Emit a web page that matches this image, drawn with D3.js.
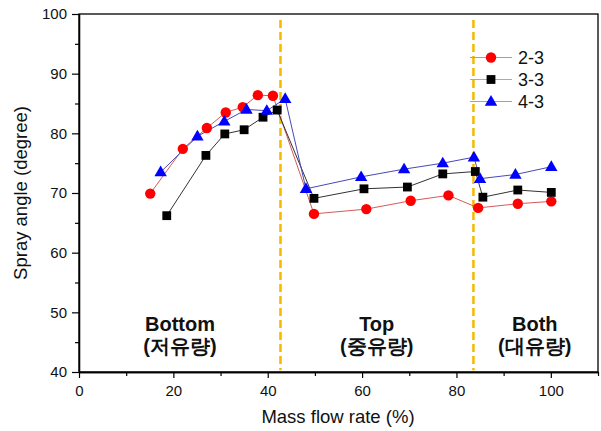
<!DOCTYPE html>
<html>
<head>
<meta charset="utf-8">
<script src="https://cdn.jsdelivr.net/npm/d3@7"></script>
<style>
  body { margin: 0; background: #fff; }
  text { font-family: Arial, "Liberation Sans", sans-serif; }
</style>
</head>
<body>
<div id="app"></div>
<script>
// data
const x23 = [15.1, 22.0, 27.1, 31.1, 34.7, 37.9, 41.1, 49.8, 60.9, 70.3, 78.3, 84.6, 93.0, 100.1];
const y23 = [69.9, 77.4, 80.9, 83.5, 84.4, 86.4, 86.3, 66.5, 67.3, 68.7, 69.6, 67.5, 68.2, 68.6];
const x33 = [18.6, 26.9, 30.9, 35.0, 39.0, 42.0, 49.8, 60.4, 69.6, 77.1, 84.0, 85.6, 93.0, 100.1];
const y33 = [66.2, 76.3, 79.9, 80.6, 82.7, 83.9, 69.1, 70.7, 71.0, 73.2, 73.6, 69.3, 70.5, 70.1];
const x43 = [17.3, 25.1, 30.8, 35.5, 39.8, 43.7, 48.1, 59.8, 68.9, 77.1, 83.7, 85.0, 92.5, 100.1];
const y43 = [73.5, 79.5, 82.0, 84.0, 83.8, 85.8, 70.7, 72.7, 74.0, 75.0, 76.0, 72.4, 73.1, 74.4];
const dividers = [42.7, 83.6];
const regions = [
  { x: 21.4, top: "Bottom", sub: "(저유량)" },
  { x: 63.1, top: "Top", sub: "(중유량)" },
  { x: 96.6, top: "Both", sub: "(대유량)" }
];
const xTicks = [0, 20, 40, 60, 80, 100];
const yTicks = [40, 50, 60, 70, 80, 90, 100];

const series = [
  { name: "2-3", xs: x23, ys: y23, line: "#d65a5a", legendLine: "#f08080", fill: "#ff0000", shape: "circle" },
  { name: "3-3", xs: x33, ys: y33, line: "#333", legendLine: "#aaa", fill: "#000", shape: "square" },
  { name: "4-3", xs: x43, ys: y43, line: "#4848b8", legendLine: "#9a9ae0", fill: "#0000ff", shape: "triangle" }
];

const width = 601;
const height = 431;
const marginLeft = 79;
const marginRight = 3;
const marginTop = 14;
const marginBottom = 59;

const x = d3.scaleLinear().domain([0, 110]).range([marginLeft, width - marginRight]);
const y = d3.scaleLinear().domain([40, 100]).range([height - marginBottom, marginTop]);

const svg = d3.select("#app").append("svg").attr("width", width).attr("height", height);

// frame
svg.append("rect")
  .attr("x", x(0)).attr("y", y(100))
  .attr("width", x(110) - x(0)).attr("height", y(40) - y(100))
  .attr("fill", "none").attr("stroke", "#000").attr("stroke-width", 1.3);

// x axis
const gx = svg.append("g").attr("transform", `translate(0,${y(40)})`);
gx.call(d3.axisBottom(x).tickValues(xTicks).tickSize(6).tickPadding(7).tickSizeOuter(0));
gx.append("g").call(d3.axisBottom(x).tickValues([10, 30, 50, 70, 90, 110]).tickSize(4).tickFormat("").tickSizeOuter(0));

// y axis
const gy = svg.append("g").attr("transform", `translate(${x(0)},0)`);
gy.call(d3.axisLeft(y).tickValues(yTicks).tickSize(7).tickPadding(5).tickSizeOuter(0));
gy.append("g").call(d3.axisLeft(y).tickValues([45, 55, 65, 75, 85, 95]).tickSize(4).tickFormat("").tickSizeOuter(0));

svg.selectAll(".domain").attr("stroke", "#000").attr("stroke-width", 1.3);
svg.selectAll(".tick line").attr("stroke", "#000").attr("stroke-width", 1.2);
svg.selectAll(".tick text").attr("font-size", 15).attr("fill", "#111");

// dividers
svg.selectAll(".divider")
  .data(dividers)
  .join("line")
  .attr("x1", (d) => x(d)).attr("x2", (d) => x(d))
  .attr("y1", y(99)).attr("y2", y(40.3))
  .attr("stroke", "#f5b800").attr("stroke-width", 2.5)
  .attr("stroke-dasharray", "8,4");

// region labels
regions.forEach((r) => {
  svg.append("text").text(r.top)
    .attr("x", x(r.x)).attr("y", 331)
    .attr("text-anchor", "middle")
    .attr("font-family", "'Noto Sans CJK KR', 'Noto Sans', sans-serif")
    .attr("font-weight", "bold").attr("font-size", 20).attr("fill", "#111");
  svg.append("text").text(r.sub)
    .attr("x", x(r.x)).attr("y", 353)
    .attr("text-anchor", "middle")
    .attr("font-family", "'Noto Sans CJK KR', sans-serif")
    .attr("font-weight", "bold").attr("font-size", 20).attr("fill", "#111");
});

const drawMarker = (g, shape, fill, cx, cy) => {
  if (shape === "circle") {
    g.append("circle").attr("cx", cx).attr("cy", cy).attr("r", 5.2).attr("fill", fill);
  } else if (shape === "square") {
    g.append("rect").attr("x", cx - 4.4).attr("y", cy - 4.4).attr("width", 8.8).attr("height", 8.8).attr("fill", fill);
  } else {
    g.append("path")
      .attr("d", `M${cx},${cy - 6.5}L${cx + 6.2},${cy + 4.2}L${cx - 6.2},${cy + 4.2}Z`)
      .attr("fill", fill);
  }
};

// series
const line = d3.line().x((d) => x(d[0])).y((d) => y(d[1]));
series.forEach((s) => {
  const pts = s.xs.map((v, i) => [v, s.ys[i]]);
  svg.append("path").datum(pts)
    .attr("d", line).attr("fill", "none")
    .attr("stroke", s.line).attr("stroke-width", 1);
});
series.forEach((s) => {
  const g = svg.append("g");
  s.xs.forEach((v, i) => drawMarker(g, s.shape, s.fill, x(v), y(s.ys[i])));
});

// legend
const legend = svg.append("g").attr("transform", "translate(470,57.5)");
series.forEach((s, i) => {
  const row = legend.append("g").attr("transform", `translate(0,${i * 22})`);
  row.append("line").attr("x1", 0).attr("x2", 42).attr("y1", 0).attr("y2", 0)
    .attr("stroke", s.legendLine).attr("stroke-width", 1.2);
  drawMarker(row, s.shape, s.fill, 21, 0);
  row.append("text").text(s.name).attr("x", 48).attr("y", 6.5)
    .attr("font-size", 18).attr("fill", "#111");
});

// axis titles
svg.append("text").text("Mass flow rate (%)")
  .attr("x", 338).attr("y", 423)
  .attr("text-anchor", "middle").attr("font-size", 18.5).attr("fill", "#111");
svg.append("text").text("Spray angle (degree)")
  .attr("transform", "rotate(-90)")
  .attr("x", -193).attr("y", 27)
  .attr("text-anchor", "middle").attr("font-size", 18.5).attr("fill", "#111");
</script>
</body>
</html>
